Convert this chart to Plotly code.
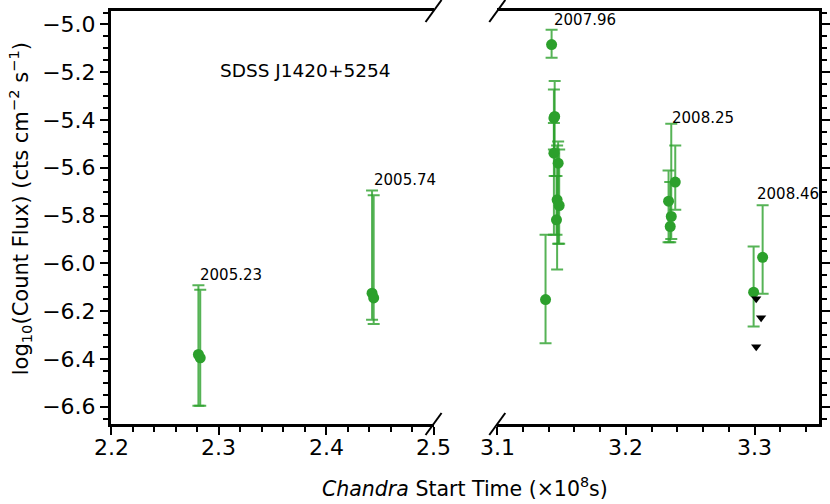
import plotly.graph_objects as go

# ---------------- data ----------------
# detections: Chandra start time (x1e8 s), log10 count flux, +err, -err
time_early = [2.2813, 2.2830, 2.4428, 2.4443]
flux_early = [-6.382, -6.396, -6.125, -6.145]
errp_early = [0.290, 0.285, 0.430, 0.430]
errm_early = [0.215, 0.201, 0.111, 0.109]

time_late = [3.1422, 3.1375, 3.1446, 3.1440, 3.1440, 3.1473, 3.1465, 3.1481, 3.1460,
             3.2383, 3.2331, 3.2352, 3.2344,
             3.2992, 3.3062]
flux_late = [-5.084, -6.152, -5.385, -5.392, -5.539, -5.581, -5.734, -5.758, -5.818,
             -5.660, -5.740, -5.804, -5.846,
             -6.121, -5.975]
errp_late = [0.062, 0.272, 0.148, 0.120, 0.126, 0.091, 0.227, 0.234, 0.184,
             0.153, 0.129, 0.388, 0.186,
             0.191, 0.218]
errm_late = [0.055, 0.183, 0.249, 0.132, 0.341, 0.337, 0.292, 0.160, 0.062,
             0.116, 0.172, 0.094, 0.066,
             0.144, 0.153]

# upper limits
time_ul = [3.3012, 3.3050, 3.3012]
flux_ul = [-6.149, -6.228, -6.349]

# x tick values / labels of the two panels
xticks_left = [2.2, 2.3, 2.4, 2.5]
xticks_right = [3.1, 3.2, 3.3]

# epoch labels (text, anchor in data coordinates)
epoch_text_early = ["2005.23", "2005.74"]
epoch_x_early = [2.281, 2.443]
epoch_y_early = [-6.051, -5.653]
epoch_text_late = ["2007.96", "2008.25", "2008.46"]
epoch_x_late = [3.1424, 3.234, 3.3004]
epoch_y_late = [-4.980, -5.390, -5.708]

source_name = "SDSS J1420+5254"
x_title = "<i>Chandra</i> Start Time (×10<sup>8</sup>s)"
y_title = "log<sub>10</sub>(Count Flux) (cts cm<sup>−2</sup> s<sup>−1</sup>)"

# ---------------- style ----------------
FONT = "DejaVu Sans"
GREEN = "#2ca02c"
ERRC = "rgba(44,160,44,0.8)"

fig = go.Figure()

def det_trace(x, y, ep, em, xa, ya):
    return go.Scatter(
        x=x, y=y, mode="markers", xaxis=xa, yaxis=ya,
        marker=dict(color=GREEN, size=11, line=dict(width=0)),
        error_y=dict(type="data", symmetric=False, array=ep, arrayminus=em,
                     color=ERRC, thickness=2, width=6),
        showlegend=False, hoverinfo="x+y")

fig.add_trace(det_trace(time_early, flux_early, errp_early, errm_early, "x", "y"))
fig.add_trace(det_trace(time_late, flux_late, errp_late, errm_late, "x2", "y2"))
fig.add_trace(go.Scatter(
    x=time_ul, y=flux_ul, mode="markers", xaxis="x2", yaxis="y2",
    marker=dict(symbol="triangle-down", color="black", size=9, line=dict(width=0)),
    showlegend=False))

YR = [-6.673, -4.9435]
tickfont = dict(family=FONT, size=22, color="black")
axis_common = dict(showgrid=False, zeroline=False, showline=True, linecolor="black",
                   linewidth=3, ticks="outside", ticklen=8, tickwidth=2,
                   tickcolor="black", tickfont=tickfont, automargin=False)

fig.update_layout(
    width=830, height=504,
    margin=dict(l=111, r=11, t=11, b=80, autoexpand=False),
    plot_bgcolor="white", paper_bgcolor="white",
    font=dict(family=FONT, color="black"),
    xaxis=dict(domain=[0, 0.4556], range=[2.2, 2.5], anchor="y",
               tickmode="array", tickvals=xticks_left, showticklabels=False,
               mirror=True,
               minor=dict(dtick=0.02, tick0=2.2, ticks="outside", ticklen=5,
                          tickwidth=2, tickcolor="black"),
               **axis_common),
    xaxis2=dict(domain=[0.5456, 1], range=[3.1, 3.35], anchor="y2",
                tickmode="array", tickvals=xticks_right, showticklabels=False,
                mirror=True,
                minor=dict(dtick=0.02, tick0=3.1, ticks="outside", ticklen=5,
                           tickwidth=2, tickcolor="black"),
                **axis_common),
    yaxis=dict(range=YR, anchor="x", tick0=-5.0, dtick=0.2, tickformat=".1f",
               mirror=False,
               minor=dict(dtick=0.05, tick0=-5.0, ticks="outside", ticklen=5,
                          tickwidth=2, tickcolor="black"),
               **axis_common),
    yaxis2=dict(range=YR, anchor="x2", side="right", matches="y",
                tick0=-5.0, dtick=0.2, showticklabels=False, mirror=False,
                minor=dict(dtick=0.05, tick0=-5.0, ticks="outside", ticklen=5,
                           tickwidth=2, tickcolor="black"),
                **axis_common),
)

ann = []
# x tick labels, placed on the axes' own scales
for xr, yr, vals in [("x", "y domain", xticks_left), ("x2", "y2 domain", xticks_right)]:
    for v in vals:
        ann.append(dict(text=f"{v:.1f}", x=v, y=0, xref=xr, yref=yr,
                        showarrow=False, xanchor="center", yanchor="middle",
                        yshift=-23, font=tickfont))
for t, x, y in zip(epoch_text_early, epoch_x_early, epoch_y_early):
    ann.append(dict(text=t, x=x, y=y, xref="x", yref="y", showarrow=False,
                    xanchor="left", yanchor="middle",
                    font=dict(family=FONT, size=15, color="black")))
for t, x, y in zip(epoch_text_late, epoch_x_late, epoch_y_late):
    ann.append(dict(text=t, x=x, y=y, xref="x2", yref="y2", showarrow=False,
                    xanchor="left", yanchor="middle",
                    font=dict(family=FONT, size=15, color="black")))
ann.append(dict(text=source_name, x=2.3807, y=-5.193, xref="x", yref="y",
                showarrow=False, xanchor="center", yanchor="middle",
                font=dict(family=FONT, size=18.5, color="black")))
ann.append(dict(text=x_title, x=0.5, y=0, xref="paper", yref="paper",
                showarrow=False, xanchor="center", yanchor="middle", yshift=-63,
                font=dict(family=FONT, size=20.5, color="black")))
ann.append(dict(text=y_title, x=0, y=0.52, xref="paper", yref="paper",
                showarrow=False, xanchor="center", yanchor="middle", xshift=-91,
                textangle=-90, font=dict(family=FONT, size=21, color="black")))
fig.update_layout(annotations=ann)

# axis-break marks
shapes = []
for xr, yr, xa in [("x domain", "y domain", 1), ("x2 domain", "y2 domain", 0)]:
    for ya in [0, 1]:
        shapes.append(dict(type="line", xref=xr, yref=yr, xsizemode="pixel",
                           ysizemode="pixel", xanchor=xa, yanchor=ya,
                           x0=-8, x1=8, y0=-11, y1=11,
                           line=dict(color="black", width=2)))
fig.update_layout(shapes=shapes)

fig.write_html("out.html",
               config={"displayModeBar": False},
               post_script="document.body.style.margin='0';"
                           "document.body.style.overflow='hidden';")
